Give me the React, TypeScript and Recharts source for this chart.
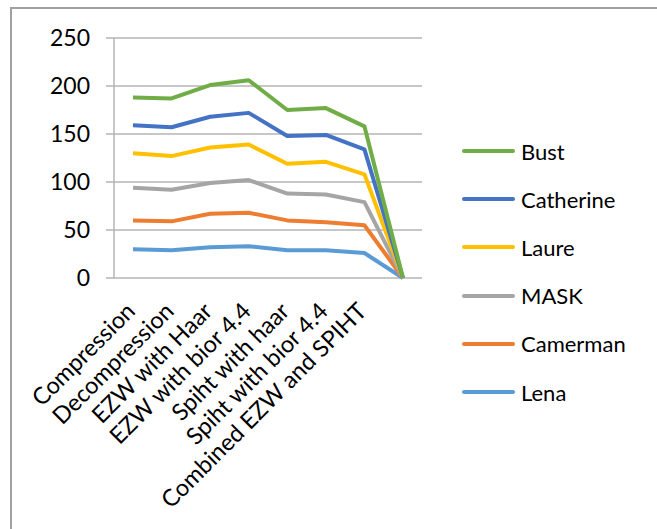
import {CartesianGrid, Line, LineChart, XAxis, YAxis} from "recharts";

// categories along the x axis (last one is empty in the source sheet)
const categories = [
    "Compression",
    "Decompression",
    "EZW with Haar",
    "EZW with bior 4.4",
    "Spiht with haar",
    "Spiht with bior 4.4",
    "Combined EZW and SPIHT",
    "",
];

// values as drawn (stacked totals)
const lena = [30, 29, 32, 33, 29, 29, 26, 0];
const camerman = [60, 59, 67, 68, 60, 58, 55, 0];
const mask = [94, 92, 99, 102, 88, 87, 79, 0];
const laure = [130, 127, 136, 139, 119, 121, 108, 0];
const catherine = [159, 157, 168, 172, 148, 149, 134, 0];
const bust = [188, 187, 201, 206, 175, 177, 158, 0];

const yTicks = [0, 50, 100, 150, 200, 250];
const edgeTicks = [0, 1, 2, 3, 4, 5, 6, 7, 8];

const series = [
    {key: "Lena", values: lena, color: "#5B9BD5"},
    {key: "Camerman", values: camerman, color: "#ED7D31"},
    {key: "MASK", values: mask, color: "#A5A5A5"},
    {key: "Laure", values: laure, color: "#FFC000"},
    {key: "Catherine", values: catherine, color: "#4472C4"},
    {key: "Bust", values: bust, color: "#70AD47"},
];

const data = categories.map((name, i) => {
    const row: Record<string, string | number> = {name, edge: i + 0.5};
    series.forEach((s) => {
        row[s.key] = s.values[i];
    });
    return row;
});

const FONT = "Lato, 'Liberation Sans', sans-serif";
const GRID = "#b5b5b5";

function CategoryTick(props: any) {
    const {x, y, payload} = props;
    const ax = x - 8;
    const ay = y + 23;
    return (
        <text
            x={ax}
            y={ay}
            dy="0.7em"
            transform={`rotate(-45 ${ax} ${ay})`}
            textAnchor="end"
            fontSize={23.5}
            fontFamily={FONT}
            fill="#000"
        >
            {payload.value}
        </text>
    );
}

function LegendBox() {
    // top of the legend is the last series drawn, as in the source
    const items = [...series].reverse();
    return (
        <div style={{position: "absolute", left: 462, top: 127, fontFamily: FONT, fontSize: 22, color: "#000"}}>
            {items.map((item) => (
                <div key={item.key} style={{display: "flex", alignItems: "center", height: 48.2}}>
                    <div style={{width: 53, height: 4, background: item.color, borderRadius: 2, marginRight: 6}} />
                    <span>{item.key}</span>
                </div>
            ))}
        </div>
    );
}

export default function App() {
    return (
        <div style={{position: "absolute", left: 0, top: 0, width: 657, height: 529, overflow: "hidden", background: "#fff"}}>
            <div
                style={{
                    position: "absolute",
                    left: 10,
                    top: 7,
                    width: 647,
                    height: 522,
                    borderLeft: "2px solid #a0a0a0",
                    borderTop: "2px solid #a0a0a0",
                    boxSizing: "border-box",
                }}
            />
            <div style={{position: "absolute", left: 0, top: 0}}>
                <LineChart
                    width={657}
                    height={529}
                    data={data}
                    margin={{top: 38, left: 10, right: 235, bottom: 0}}
                >
                    <CartesianGrid horizontal vertical={false} stroke={GRID} strokeWidth={1.5} />
                    <XAxis
                        xAxisId="edges"
                        type="number"
                        dataKey="edge"
                        domain={[0, 8]}
                        ticks={edgeTicks}
                        tick={false}
                        tickSize={8}
                        height={0}
                        axisLine={{stroke: GRID, strokeWidth: 1.5}}
                        tickLine={{stroke: GRID, strokeWidth: 1.5}}
                    />
                    <XAxis
                        dataKey="name"
                        interval={0}
                        padding={{left: 19, right: 19}}
                        axisLine={false}
                        tickLine={false}
                        tickSize={0}
                        tickMargin={0}
                        height={251}
                        tick={<CategoryTick />}
                    />
                    <YAxis
                        domain={[0, 250]}
                        ticks={yTicks}
                        width={104}
                        tickSize={8}
                        tickMargin={16}
                        axisLine={{stroke: GRID, strokeWidth: 1.5}}
                        tickLine={{stroke: GRID, strokeWidth: 1.5}}
                        tick={{fontSize: 23, fontFamily: FONT, fill: "#000"}}
                    />
                    {series.map((s) => (
                        <Line
                            key={s.key}
                            dataKey={s.key}
                            stroke={s.color}
                            strokeWidth={4}
                            dot={false}
                            activeDot={false}
                            strokeLinejoin="round"
                            isAnimationActive={false}
                        />
                    ))}
                </LineChart>
            </div>
            <LegendBox />
        </div>
    );
}
